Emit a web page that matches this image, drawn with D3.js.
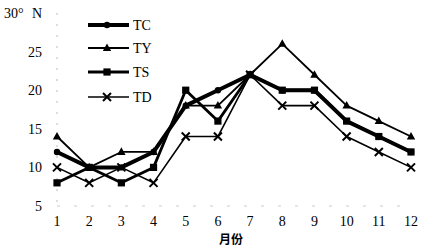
<!DOCTYPE html>
<html><head><meta charset="utf-8">
<script src="https://cdn.jsdelivr.net/npm/d3@7"></script>
<style>body{margin:0;background:#fff}svg{display:block}
text{font-family:"Liberation Serif","DejaVu Serif",serif}
text.cjk{font-family:"Noto Sans CJK SC",sans-serif}</style>
</head><body>
<svg id="c" width="435" height="252"></svg>
<script>
const months = [1,2,3,4,5,6,7,8,9,10,11,12];
const yTicks = [5,10,15,20,25];
const TC = [12,10,10,12,18,20,22,20,20,16,14,12];
const TY = [14,10,12,12,18,18,22,26,22,18,16,14];
const TS = [8,10,8,10,20,16,22,20,20,16,14,12];
const TD = [10,8,10,8,14,14,22,18,18,14,12,10];
const seriesNames = ["TC","TY","TS","TD"];

const series = [
  {name:"TC", values:TC, w:4, sym:"circle", size:3.2},
  {name:"TY", values:TY, w:1.8, sym:"triangle", size:4.2},
  {name:"TS", values:TS, w:2.8, sym:"square", size:3.6},
  {name:"TD", values:TD, w:1.6, sym:"cross", size:4}
];

const svg = d3.select("#c");
const x = d3.scalePoint().domain(months).range([57, 411]);
const y = d3.scaleLinear().domain([5,30]).range([206, 13]);

// faint axes
svg.append("line").attr("x1",57).attr("x2",57).attr("y1",y(30)).attr("y2",y(5))
  .attr("stroke","#bbb").attr("stroke-width",1).attr("stroke-dasharray","2,9");
svg.append("line").attr("x1",57).attr("x2",411).attr("y1",y(5)).attr("y2",y(5))
  .attr("stroke","#ccc").attr("stroke-width",1).attr("stroke-dasharray","3,14");

// y tick labels
svg.selectAll(".yt").data(yTicks).enter().append("text")
  .attr("x",42).attr("y",d=>y(d)).attr("dy","0.35em").attr("text-anchor","end")
  .attr("font-size",14).text(d=>d);
svg.append("text").attr("x",4).attr("y",y(30)).attr("dy","0.35em")
  .attr("font-size",14).text("30°");
svg.append("text").attr("x",32).attr("y",y(30)).attr("dy","0.35em")
  .attr("font-size",14).text("N");

// x tick labels
svg.selectAll(".xt").data(months).enter().append("text")
  .attr("x",d=>x(d)).attr("y",226).attr("text-anchor","middle")
  .attr("font-size",14).text(d=>d);
svg.append("text").attr("class","cjk").attr("x",231).attr("y",244).attr("text-anchor","middle")
  .attr("font-size",12).attr("font-weight","bold").text("月份");

function drawMarker(g, sym, cx, cy, s, w){
  if(sym==="circle"){
    g.append("circle").attr("cx",cx).attr("cy",cy).attr("r",s).attr("fill","#000");
  } else if(sym==="square"){
    g.append("rect").attr("x",cx-s).attr("y",cy-s).attr("width",2*s).attr("height",2*s).attr("fill","#000");
  } else if(sym==="triangle"){
    g.append("path").attr("d",`M${cx},${cy-s*1.1}L${cx+s},${cy+s*0.7}L${cx-s},${cy+s*0.7}Z`).attr("fill","#000");
  } else {
    g.append("path").attr("d",`M${cx-s},${cy-s}L${cx+s},${cy+s}M${cx-s},${cy+s}L${cx+s},${cy-s}`)
      .attr("stroke","#000").attr("stroke-width",2);
  }
}

const line = d3.line().x((d,i)=>x(months[i])).y(d=>y(d));
const order = [3,2,1,0];
order.forEach(k=>{
  const s = series[k];
  const g = svg.append("g");
  g.append("path").attr("d",line(s.values)).attr("fill","none")
    .attr("stroke","#000").attr("stroke-width",s.w).attr("stroke-linejoin","round");
  s.values.forEach((v,i)=>drawMarker(g, s.sym, x(months[i]), y(v), s.size, s.w));
});

// legend
const legY = [25,48,72,97];
series.forEach((s,i)=>{
  const g = svg.append("g");
  g.append("line").attr("x1",88).attr("x2",129).attr("y1",legY[i]).attr("y2",legY[i])
    .attr("stroke","#000").attr("stroke-width",s.w);
  drawMarker(g, s.sym, 107, legY[i], s.size, s.w);
  g.append("text").attr("x",133).attr("y",legY[i]).attr("dy","0.35em")
    .attr("font-size",14).text(seriesNames[i]);
});
</script>
</body></html>
